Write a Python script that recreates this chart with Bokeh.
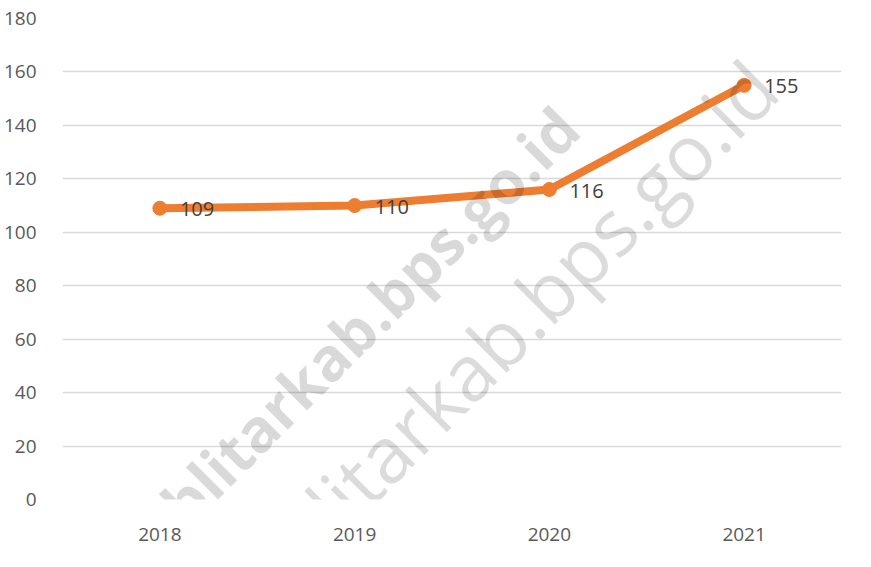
from bokeh.plotting import figure
from bokeh.models import ColumnDataSource, Range1d, FactorRange, Label, FixedTicker
from bokeh.core.properties import value
from bokeh.embed import file_html
from bokeh.resources import INLINE

years = ["2018", "2019", "2020", "2021"]
values = [109, 110, 116, 155]
y_ticks = [0, 20, 40, 60, 80, 100, 120, 140, 160, 180]

src = ColumnDataSource(dict(x=years, y=values, lbl=[str(v) for v in values]))

W, H = 855, 551
p = figure(width=W, height=H, output_backend="svg", toolbar_location=None,
           x_range=FactorRange(*years, range_padding=0), y_range=Range1d(0, 180),
           min_border_left=57, min_border_right=14, min_border_top=18, min_border_bottom=52)
p.outline_line_color = None
p.background_fill_color = "white"
p.border_fill_color = "white"

p.xgrid.grid_line_color = None
p.ygrid.grid_line_color = "#d9d9d9"
p.ygrid.grid_line_width = 1.5
p.yaxis.ticker = FixedTicker(ticks=y_ticks)

for ax in (p.xaxis, p.yaxis):
    ax.axis_line_color = None
    ax.major_tick_line_color = None
    ax.minor_tick_line_color = None
    ax.major_label_text_color = "#595959"
    ax.major_label_text_font = "Open Sans"
    ax.major_label_text_font_size = "19px"
p.yaxis.major_label_standoff = 20
p.xaxis.major_label_standoff = 22

p.line("x", "y", source=src, line_color="#ED7D31", line_width=8, line_cap="round", line_join="round")
p.scatter("x", "y", source=src, size=14, fill_color="#ED7D31", line_color="#ED7D31")
p.text("x", "y", text="lbl", source=src, x_offset=20, y_offset=1,
       text_font=value("Open Sans"), text_font_size="20px",
       text_color="#404040", text_baseline="middle", text_align="left")

wm = "https://blitarkab.bps.go.id"
for (sx, sy, style, size, alpha) in [(505, 382, "bold", "60px", 0.15), (700, 425, "normal", "78px", 0.14)]:
    p.add_layout(Label(x=sx, y=sy, x_units="screen", y_units="screen", level="overlay",
                       text=wm, angle=45, angle_units="deg", text_align="right",
                       text_baseline="alphabetic", text_font="Open Sans", text_font_size=size,
                       text_font_style=style, text_color="black", text_alpha=alpha))

open("out.html", "w").write(file_html(p, INLINE))
